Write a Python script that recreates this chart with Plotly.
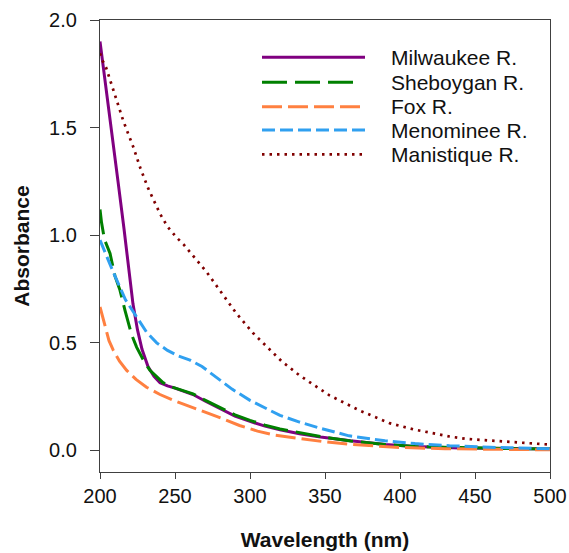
import plotly.graph_objects as go

# ---- data ----
milwaukee_wl = [200, 204, 208, 212, 216, 219, 222, 225, 228, 232, 236, 240, 245, 250, 256, 262, 270, 280, 290,
                300, 310, 320, 333, 347, 367, 390, 410, 440, 470, 500]
milwaukee_abs = [1.90, 1.69, 1.47, 1.25, 1.03, 0.85, 0.68, 0.56, 0.47, 0.39, 0.345, 0.315, 0.30, 0.29, 0.275, 0.26,
                 0.23, 0.195, 0.16, 0.135, 0.113, 0.096, 0.078, 0.063, 0.045, 0.028, 0.018, 0.012, 0.009, 0.007]

sheboygan_wl = [200, 201, 203, 206.7, 210, 213.3, 216.7, 221, 224.4, 228.9, 233.3, 237.8, 242, 248, 256, 262, 270,
                280, 290, 300, 310, 320, 333, 347, 367, 390, 410, 440, 470, 500]
sheboygan_abs = [1.12, 1.06, 0.98, 0.915, 0.81, 0.745, 0.65, 0.54, 0.48, 0.42, 0.372, 0.34, 0.315, 0.295, 0.278,
                 0.263, 0.234, 0.2, 0.165, 0.14, 0.118, 0.1, 0.082, 0.065, 0.044, 0.028, 0.018, 0.012, 0.009, 0.007]

fox_wl = [200, 203.3, 206, 208.9, 213, 217.8, 224, 231, 240, 248.9, 260, 271, 282, 293, 305, 316, 326.7, 333,
          350, 367, 386.7, 400, 430, 460, 500]
fox_abs = [0.667, 0.573, 0.51, 0.465, 0.415, 0.372, 0.33, 0.294, 0.26, 0.233, 0.205, 0.178, 0.147, 0.116, 0.09,
           0.072, 0.062, 0.054, 0.04, 0.028, 0.018, 0.014, 0.008, 0.005, 0.003]

menominee_wl = [200, 205, 210, 217, 224.4, 231, 237.8, 245, 252, 260, 268, 277.8, 288, 300, 313, 320, 333, 346,
                366, 390, 410, 433, 460, 500]
menominee_abs = [0.977, 0.89, 0.81, 0.70, 0.62, 0.55, 0.50, 0.465, 0.44, 0.42, 0.39, 0.34, 0.285, 0.233, 0.185,
                 0.163, 0.132, 0.105, 0.068, 0.045, 0.032, 0.022, 0.015, 0.008]

manistique_wl = [200, 201.8, 204, 206.7, 211, 215.6, 222.2, 227, 232, 236, 240, 245, 251, 256, 260, 265, 271, 280,
                 291, 302, 315.6, 321, 333, 346.7, 353, 373, 393, 409, 433, 444, 470, 500]
manistique_abs = [1.845, 1.81, 1.78, 1.72, 1.63, 1.53, 1.41, 1.31, 1.22, 1.16, 1.10, 1.04, 0.99, 0.955, 0.92, 0.88,
                  0.83, 0.74, 0.636, 0.546, 0.45, 0.415, 0.349, 0.287, 0.256, 0.186, 0.127, 0.098, 0.065, 0.054,
                  0.04, 0.027]

series_names = ["Milwaukee R.", "Sheboygan R.", "Fox R.", "Menominee R.", "Manistique R."]
x_ticks = [200, 250, 300, 350, 400, 450, 500]
y_ticks = [0.0, 0.5, 1.0, 1.5, 2.0]

# ---- styles ----
styles = [
    dict(color="#800080", width=3, dash="solid"),
    dict(color="#008000", width=3, dash="25px,8px"),
    dict(color="#FF8040", width=3, dash="20px,6px"),
    dict(color="#30A0F0", width=3, dash="13px,5px"),
    dict(color="#800000", width=2.7, dash="2.5px,5px"),
]
xs = [milwaukee_wl, sheboygan_wl, fox_wl, menominee_wl, manistique_wl]
ys = [milwaukee_abs, sheboygan_abs, fox_abs, menominee_abs, manistique_abs]

FONT = "Liberation Sans, Arial, Helvetica, sans-serif"
fig = go.Figure()
for name, x, y, st in zip(series_names, xs, ys, styles):
    fig.add_trace(go.Scatter(x=x, y=y, mode="lines", name=name, line=st, showlegend=False))

W, H = 569, 553
L, R, T, B = 100, 19, 20, 81
pw, ph = W - L - R, H - T - B

# custom legend (long line samples like the reference), positions in pixels
row_py = [57.3, 82.3, 106.7, 130.0, 154.3]
sample_end = [365, 353, 360, 365, 365]
for name, st, py, xe in zip(series_names, styles, row_py, sample_end):
    yp = (H - B - py) / ph
    fig.add_shape(type="line", xref="paper", yref="paper",
                  x0=(262 - L) / pw, x1=(xe - L) / pw, y0=yp, y1=yp, line=st)
    fig.add_annotation(xref="paper", yref="paper", x=(389 - L) / pw, y=yp, text=name,
                       showarrow=False, xanchor="left", yanchor="middle",
                       font=dict(family=FONT, size=21, color="#111"))

axis_common = dict(showline=True, linecolor="#404040", linewidth=1.2, mirror=True, showgrid=False,
                   zeroline=False, ticks="outside", tickcolor="#404040", tickwidth=1.2,
                   tickfont=dict(family=FONT, size=20, color="#111"))
fig.update_xaxes(range=[200, 500], tickvals=x_ticks, ticklen=6,
                 title=dict(text="<b>Wavelength (nm)</b>", font=dict(family=FONT, size=21, color="#111"),
                            standoff=26),
                 **axis_common)
fig.update_yaxes(range=[-0.1, 2.0], tickvals=y_ticks, tickformat=".1f", ticklen=9, ticklabelstandoff=9,
                 title=dict(text="<b>Absorbance</b>", font=dict(family=FONT, size=21, color="#111"),
                            standoff=13),
                 **axis_common)
fig.update_layout(width=W, height=H, margin=dict(l=L, r=R, t=T, b=B, autoexpand=False),
                  paper_bgcolor="white", plot_bgcolor="white", showlegend=False)
fig.write_html("out.html", config={"displayModeBar": False},
               post_script="document.body.style.margin='0';document.body.style.overflow='hidden';")
